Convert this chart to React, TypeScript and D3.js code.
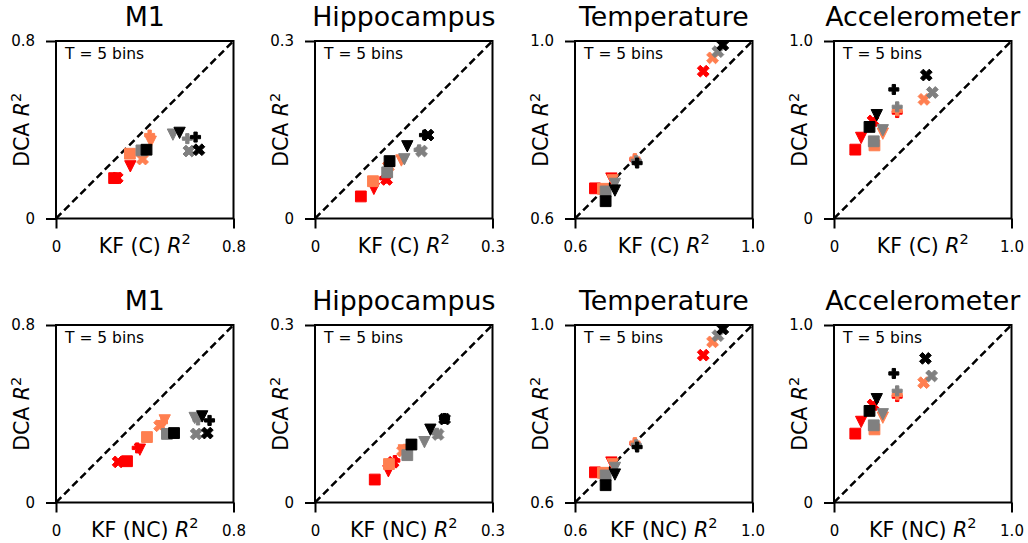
import React, { useRef, useEffect } from "react";
import * as d3 from "d3";

const colors = ["red", "coral", "gray", "black"];
// marker order in every row: square, triangle down, filled plus, filled x
const markers = ["s", "v", "P", "X"];

const titles = ["M1", "Hippocampus", "Temperature", "Accelerometer"];
const axMin = [0, 0, 0.6, 0];
const axMax = [0.8, 0.3, 1.0, 1.0];
const tickLabels = [["0", "0.8"], ["0", "0.3"], ["0.6", "1.0"], ["0", "1.0"]];
const rowLabels = ["KF (C)", "KF (NC)"];

// [KF R2, DCA R2], one row per colour, one column per marker
const m1C = [
  [[0.262, 0.182], [0.335, 0.235], [0.268, 0.182], [0.276, 0.183]],
  [[0.333, 0.292], [0.427, 0.346], [0.422, 0.376], [0.39, 0.268]],
  [[0.385, 0.307], [0.527, 0.378], [0.592, 0.36], [0.599, 0.304]],
  [[0.408, 0.31], [0.557, 0.386], [0.629, 0.367], [0.644, 0.31]],
];
const hippoC = [
  [[0.0775, 0.0373], [0.0995, 0.05], [0.118, 0.068], [0.121, 0.066]],
  [[0.098, 0.063], [0.146, 0.098], [0.126, 0.09], [0.124, 0.088]],
  [[0.122, 0.078], [0.151, 0.1], [0.176, 0.116], [0.18, 0.114]],
  [[0.126, 0.097], [0.156, 0.122], [0.185, 0.141], [0.191, 0.141]],
];
const tempC = [
  [[0.645, 0.668], [0.682, 0.69], [0.735, 0.733], [0.889, 0.932]],
  [[0.663, 0.667], [0.685, 0.686], [0.735, 0.735], [0.91, 0.962]],
  [[0.669, 0.661], [0.69, 0.678], [0.738, 0.73], [0.922, 0.976]],
  [[0.669, 0.639], [0.69, 0.663], [0.74, 0.725], [0.933, 0.991]],
];
const accC = [
  [[0.12, 0.388], [0.153, 0.454], [0.356, 0.597], [0.22, 0.55]],
  [[0.228, 0.412], [0.275, 0.478], [0.356, 0.607], [0.507, 0.671]],
  [[0.224, 0.435], [0.275, 0.497], [0.356, 0.629], [0.554, 0.71]],
  [[0.2, 0.516], [0.241, 0.582], [0.337, 0.727], [0.52, 0.808]],
];
const m1NC = [
  [[0.32, 0.186], [0.378, 0.238], [0.366, 0.246], [0.28, 0.183]],
  [[0.41, 0.295], [0.49, 0.37], [0.48, 0.362], [0.467, 0.346]],
  [[0.5, 0.309], [0.625, 0.381], [0.64, 0.372], [0.632, 0.309]],
  [[0.532, 0.313], [0.659, 0.388], [0.692, 0.37], [0.682, 0.313]],
];
const hippoNC = [
  [[0.101, 0.0388], [0.124, 0.0528], [0.135, 0.071], [0.132, 0.068]],
  [[0.125, 0.065], [0.15, 0.088], [0.152, 0.09], [0.148, 0.087]],
  [[0.156, 0.08], [0.185, 0.102], [0.206, 0.117], [0.208, 0.115]],
  [[0.163, 0.098], [0.195, 0.123], [0.219, 0.142], [0.219, 0.141]],
];
const tempNC = [
  [[0.645, 0.668], [0.682, 0.69], [0.735, 0.733], [0.889, 0.932]],
  [[0.663, 0.667], [0.685, 0.686], [0.735, 0.735], [0.91, 0.962]],
  [[0.669, 0.661], [0.69, 0.678], [0.738, 0.73], [0.922, 0.976]],
  [[0.669, 0.639], [0.69, 0.663], [0.74, 0.725], [0.933, 0.991]],
];
const accNC = [
  [[0.12, 0.388], [0.153, 0.454], [0.356, 0.597], [0.22, 0.55]],
  [[0.228, 0.412], [0.275, 0.478], [0.356, 0.607], [0.505, 0.675]],
  [[0.224, 0.435], [0.275, 0.497], [0.356, 0.629], [0.55, 0.713]],
  [[0.2, 0.516], [0.241, 0.582], [0.337, 0.727], [0.515, 0.812]],
];

const rows = [
  [m1C, hippoC, tempC, accC],
  [m1NC, hippoNC, tempNC, accNC],
];

// matplotlib-like marker shapes as d3 symbol types (size = markersize^2)
const closedPath = (pts) => ({
  draw(context, size) {
    const ms = Math.sqrt(size);
    pts.forEach(([a, b], i) => {
      if (i === 0) context.moveTo(a * ms, b * ms);
      else context.lineTo(a * ms, b * ms);
    });
    context.closePath();
  },
});
const symbolTypes = {
  s: closedPath([[-0.5, -0.5], [0.5, -0.5], [0.5, 0.5], [-0.5, 0.5]]),
  v: closedPath([[0, 0.5], [-0.5, -0.5], [0.5, -0.5]]),
  P: closedPath([[-1, -3], [1, -3], [1, -1], [3, -1], [3, 1], [1, 1], [1, 3], [-1, 3], [-1, 1], [-3, 1], [-3, -1], [-1, -1]].map(([a, b]) => [a / 6, b / 6])),
  X: closedPath([[-1, -2], [0, -1], [1, -2], [2, -1], [1, 0], [2, 1], [1, 2], [0, 1], [-1, 2], [-2, 1], [-1, 0], [-2, -1]].map(([a, b]) => [a / 4, b / 4])),
};
const markerSize = { s: 10.8, v: 11.3, P: 10, X: 11.8 };

const W = 1028;
const H = 543;
const lefts = [56, 315, 575, 834];
const tops = [41, 325];
const size = 177.5;
const font = "DejaVu Sans";

const App = () => {
  const ref = useRef(null);

  useEffect(() => {
    const svg = d3.select(ref.current);
    svg.selectAll("*").remove();
    svg.append("rect").attr("width", W).attr("height", H).attr("fill", "white");

    rows.forEach((row, r) => {
      row.forEach((pts, c) => {
        const x0 = lefts[c];
        const y0 = tops[r];
        const x = d3.scaleLinear().domain([axMin[c], axMax[c]]).range([x0, x0 + size]);
        const y = d3.scaleLinear().domain([axMin[c], axMax[c]]).range([y0 + size, y0]);
        const g = svg.append("g").style("font-family", font);

        const clipId = `clip-${r}-${c}`;
        svg.append("clipPath").attr("id", clipId)
          .append("rect").attr("x", x0).attr("y", y0).attr("width", size).attr("height", size);

        const inner = g.append("g").attr("clip-path", `url(#${clipId})`);

        // identity line
        inner.append("line")
          .attr("x1", x(axMin[c])).attr("y1", y(axMin[c]))
          .attr("x2", x(axMax[c])).attr("y2", y(axMax[c]))
          .attr("stroke", "black")
          .attr("stroke-width", 2.5)
          .attr("stroke-dasharray", "7.5,4");

        pts.forEach((colRow, ci) => {
          colRow.forEach((p, mi) => {
            const m = markers[mi];
            inner.append("path")
              .attr("transform", `translate(${x(p[0])},${y(p[1])})`)
              .attr("d", d3.symbol().type(symbolTypes[m]).size(markerSize[m] ** 2)())
              .attr("fill", colors[ci])
              .attr("stroke", colors[ci])
              .attr("stroke-width", 1);
          });
        });

        // spines
        g.append("rect")
          .attr("x", x0).attr("y", y0).attr("width", size).attr("height", size)
          .attr("fill", "none").attr("stroke", "black").attr("stroke-width", 2);

        // axes, ticks only at the ends
        const xAxis = d3.axisBottom(x)
          .tickValues([axMin[c], axMax[c]])
          .tickSize(10).tickSizeOuter(0).tickPadding(13)
          .tickFormat((d, i) => tickLabels[c][i]);
        const yAxis = d3.axisLeft(y)
          .tickValues([axMin[c], axMax[c]])
          .tickSize(10).tickSizeOuter(0).tickPadding(11)
          .tickFormat((d, i) => tickLabels[c][i]);

        const gx = g.append("g").attr("transform", `translate(0,${y0 + size})`).call(xAxis);
        const gy = g.append("g").attr("transform", `translate(${x0},0)`).call(yAxis);
        [gx, gy].forEach((ax) => {
          ax.select(".domain").remove();
          ax.attr("font-family", font).attr("font-size", 15);
          ax.selectAll("line").attr("stroke-width", 2);
        });

        // title
        g.append("text")
          .attr("x", x0 + size / 2).attr("y", y0 - 15)
          .attr("text-anchor", "middle")
          .attr("font-size", 26.8)
          .text(titles[c]);

        // annotation
        g.append("text")
          .attr("x", x0 + 9).attr("y", y0 + 18)
          .attr("font-size", 15.5)
          .text("T = 5 bins");

        // x label
        const xl = g.append("text")
          .attr("x", x0 + size / 2).attr("y", y0 + size + 34)
          .attr("text-anchor", "middle")
          .attr("font-size", 20.5);
        xl.append("tspan").text(`${rowLabels[r]} `);
        xl.append("tspan").attr("font-style", "italic").text("R");
        xl.append("tspan").attr("font-size", 14.5).attr("dy", -8.5).text("2");

        // y label
        const yl = g.append("text")
          .attr("transform", `translate(${x0 - 27},${y0 + size / 2}) rotate(-90)`)
          .attr("text-anchor", "middle")
          .attr("font-size", 20.5);
        yl.append("tspan").text("DCA ");
        yl.append("tspan").attr("font-style", "italic").text("R");
        yl.append("tspan").attr("font-size", 14.5).attr("dy", -8.5).text("2");
      });
    });
  }, []);

  return (
    <svg
      ref={ref}
      width={W}
      height={H}
      style={{ position: "absolute", left: 0, top: 0 }}
    />
  );
};

export default App;
